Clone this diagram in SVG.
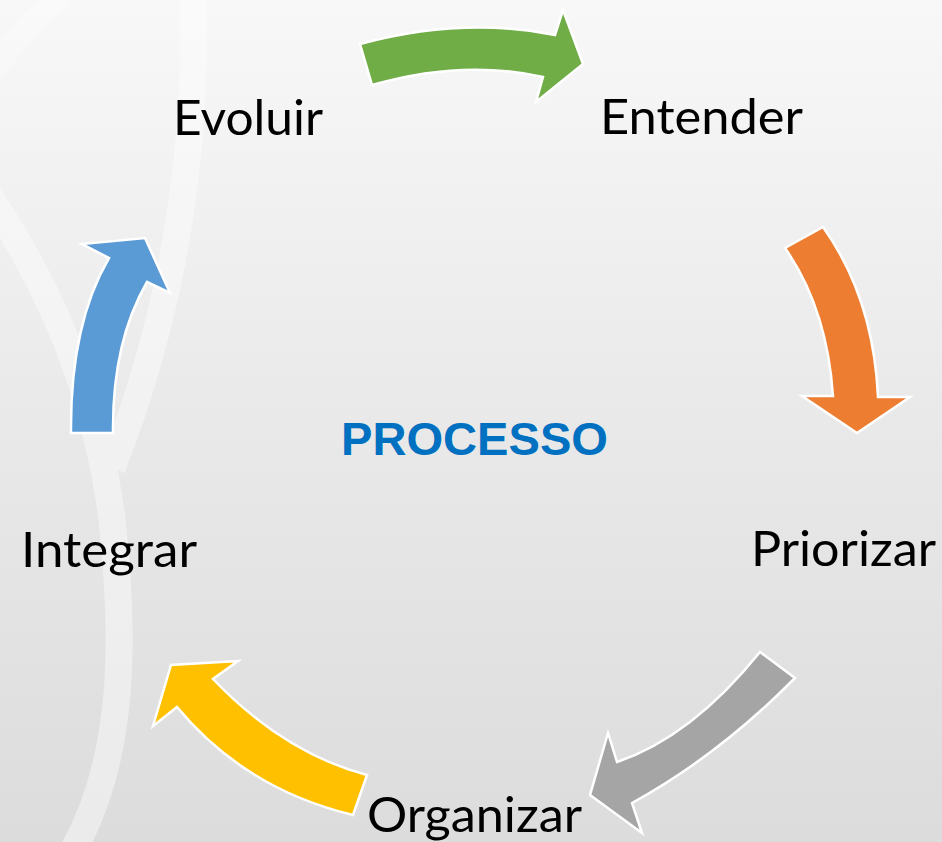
<svg xmlns="http://www.w3.org/2000/svg" width="942" height="842" viewBox="0 0 942 842">
  <defs>
    <linearGradient id="bg" x1="0" y1="0" x2="0" y2="1">
      <stop offset="0" stop-color="#f8f8f8"/>
      <stop offset="0.5" stop-color="#e9e9e9"/>
      <stop offset="1" stop-color="#dcdcdc"/>
    </linearGradient>
  </defs>
  <style>
    .band { fill: none; stroke: #ffffff; stroke-linecap: butt; stroke-linejoin: round; }
    .arrow { stroke: #ffffff; stroke-width: 2.5; stroke-linejoin: miter; }
    .label { font-family: "Lato", "Open Sans", "Liberation Sans", sans-serif; font-size: 49px; fill: #000000; }
    .title { font-family: "Liberation Sans", Arial, sans-serif; font-size: 47px; font-weight: bold; fill: #0070C0; }
  </style>

  <rect x="0" y="0" width="942" height="842" fill="url(#bg)"/>

  <g id="background-swooshes">
    <path class="band" d="M-10,75 Q20,30 62,-5" stroke-width="24" opacity="0.25"/>
    <g opacity="0.42">
      <path class="band" d="M193,-5 C198,160 170,320 112,468" stroke-width="27"/>
      <path class="band" d="M-15,190 C40,270 95,380 112,520 C125,640 125,760 72,852" stroke-width="27"/>
    </g>
  </g>

  <g id="connectors">
    <path id="arrow-green" class="arrow" fill="#70AD47"
      d="M360,44 Q462.5,16.5 555,35 L563,10 L583,64 L536,102 L543,77 Q462.5,59 372,85 Z"/>
    <path id="arrow-orange" class="arrow" fill="#ED7D31"
      d="M785,248 L823,227 Q873.5,298 878,397 L910,397 L857,433 L802,396 L833,396 Q827,308 785,248 Z"/>
    <path id="arrow-gray" class="arrow" fill="#A5A5A5"
      d="M760,652 L795,678 Q718.5,755.5 632,803 L642,833 L590,795 L608,733 L617,762 Q691.5,737 760,652 Z"/>
    <path id="arrow-yellow" class="arrow" fill="#FFC000"
      d="M353,815 L367,775 Q284,753 213,679 L238,661 L171,665 L153,726 L177,707 Q245,789 353,815 Z"/>
    <path id="arrow-blue" class="arrow" fill="#5B9BD5"
      d="M71,433 L113,433 Q112,342.5 147,282 L170,293 L145,238 L82,244 L109,258 Q70,324.5 71,433 Z"/>
  </g>

  <g id="node-evoluir">
    <text class="label" x="173" y="135" textLength="150" lengthAdjust="spacingAndGlyphs">Evoluir</text>
  </g>
  <g id="node-entender">
    <text class="label" x="600" y="134" textLength="203" lengthAdjust="spacingAndGlyphs">Entender</text>
  </g>
  <g id="node-priorizar">
    <text class="label" x="751" y="566" textLength="185" lengthAdjust="spacingAndGlyphs">Priorizar</text>
  </g>
  <g id="node-organizar">
    <text class="label" x="367" y="832" textLength="215" lengthAdjust="spacingAndGlyphs">Organizar</text>
  </g>
  <g id="node-integrar">
    <text class="label" x="21" y="567" textLength="176" lengthAdjust="spacingAndGlyphs">Integrar</text>
  </g>
  <g id="node-processo">
    <text class="title" x="341" y="455" textLength="267" lengthAdjust="spacingAndGlyphs">PROCESSO</text>
  </g>
</svg>
